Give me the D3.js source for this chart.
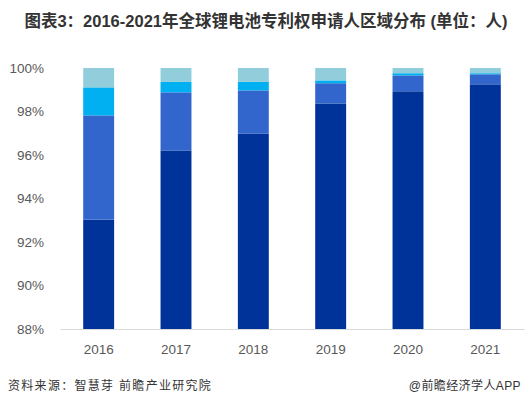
<!DOCTYPE html>
<html><head><meta charset="utf-8">
<script src="https://cdn.jsdelivr.net/npm/d3@7"></script>
<style>
html,body{margin:0;padding:0;background:#fff;}
svg{display:block;font-family:"Liberation Sans","Noto Sans CJK SC",Arial,sans-serif;}
</style></head>
<body>
<svg id="c" width="529" height="409"></svg>
<script>
const years = ["2016","2017","2018","2019","2020","2021"];
const seriesNames = ["s1","s2","s3","s4"];
const s1 = [93.03, 96.21, 96.99, 98.37, 98.93, 99.25];
const s2 = [4.79, 2.67, 1.98, 0.93, 0.73, 0.46];
const s3 = [1.29, 0.48, 0.39, 0.13, 0.10, 0.05];
const s4 = [0.89, 0.64, 0.64, 0.57, 0.24, 0.24];
const colors = ["#003399", "#3366CC", "#00B0F0", "#92CDDC"];
const yTicks = [88, 90, 92, 94, 96, 98, 100];

(function () {
const rows = years.map((y, i) => ({year: y, s1: s1[i], s2: s2[i], s3: s3[i], s4: s4[i]}));
const stacked = d3.stack().keys(seriesNames)(rows);

const svg = d3.select("#c");
const mLeft = 60, mRight = 524, mTop = 68, mBottom = 329;

const x = d3.scaleBand().domain(years).range([mLeft, mRight]).paddingInner(0.6).paddingOuter(0.3);
const y = d3.scaleLinear().domain([88, 100]).range([mBottom, mTop]);

svg.append("defs").append("clipPath").attr("id", "clip")
  .append("rect").attr("x", mLeft).attr("y", mTop - 1).attr("width", mRight - mLeft).attr("height", mBottom - mTop + 1);

const g = svg.append("g").attr("clip-path", "url(#clip)");
g.selectAll("g.s").data(stacked).join("g").attr("class", "s")
  .attr("fill", (d, i) => colors[i])
  .selectAll("rect").data(d => d).join("rect")
  .attr("x", d => x(d.data.year))
  .attr("width", x.bandwidth())
  .attr("y", d => y(d[1]))
  .attr("height", d => y(d[0]) - y(d[1]));

const xa = svg.append("g").attr("transform", `translate(0,${mBottom})`)
  .call(d3.axisBottom(x).tickSize(0).tickPadding(15));
xa.select(".domain").attr("stroke", "#d9d9d9");
xa.selectAll("text").attr("fill", "#595959").attr("font-size", 13.5).attr("font-family", "Liberation Sans, Arial, sans-serif");

const ya = svg.append("g").attr("transform", `translate(${mLeft},0)`)
  .call(d3.axisLeft(y).tickValues(yTicks).tickFormat(d => d + "%").tickSize(0).tickPadding(16));
ya.select(".domain").remove();
ya.selectAll("text").attr("fill", "#595959").attr("font-size", 13.5).attr("font-family", "Liberation Sans, Arial, sans-serif");

svg.append("text").attr("x", 266).attr("y", 27).attr("text-anchor", "middle")
  .attr("font-size", 16.5).attr("font-weight", "bold").attr("fill", "#333333")
  .text("图表3：2016-2021年全球锂电池专利权申请人区域分布 (单位：人)");

svg.append("text").attr("x", 8).attr("y", 390).attr("font-size", 12).attr("letter-spacing", 1.3).attr("fill", "#333333")
  .text("资料来源：智慧芽 前瞻产业研究院");
svg.append("text").attr("x", 521).attr("y", 390).attr("text-anchor", "end").attr("font-size", 12).attr("letter-spacing", 0.4).attr("fill", "#333333")
  .text("@前瞻经济学人APP");
})();
</script>
</body></html>
